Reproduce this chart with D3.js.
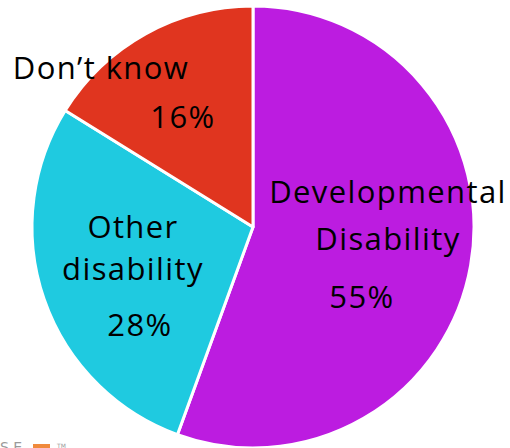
<!DOCTYPE html>
<html>
<head>
<meta charset="utf-8">
<script src="https://cdn.jsdelivr.net/npm/d3@7"></script>
<style>
  html, body { margin: 0; padding: 0; background: #fff; }
  svg { display: block; }
  .lbl { font-family: "Open Sans", sans-serif; font-size: 31px; letter-spacing: 1.4px; fill: #000; }
</style>
</head>
<body>
<div id="chart"></div>
<script>
/* Disability type pie */
(function () {
  const W = 510, H = 448;

  // Data
  const categories = ["Developmental Disability", "Other disability", "Don\u2019t know"];
  const values = [55, 28, 16];
  const colors = ["#BC1CE0", "#1FCAE0", "#E0351F"];

  // Label lines and positions (relative to pie centre)
  const labelLines = [["Developmental", "Disability"], ["Other", "disability"], ["Don\u2019t know"]];
  const labelPos = [
    { x: 135, lines: [-24, 23], pct: { x: 109, y: 81 } },
    { x: -120, lines: [11, 53], pct: { x: -113, y: 109 } },
    { x: -152, lines: [-148], pct: { x: -70, y: -99 } }
  ];

  const cx = 253, cy = 227, r = 221;

  const svg = d3.select("#chart").append("svg")
    .attr("width", W).attr("height", H);

  const g = svg.append("g").attr("transform", `translate(${cx},${cy})`);

  const data = categories.map((c, i) => ({ cat: c, value: values[i], color: colors[i], i }));

  const pie = d3.pie().sort(null).value(d => d.value);
  const arc = d3.arc().innerRadius(0).outerRadius(r);

  g.selectAll("path.slice")
    .data(pie(data))
    .join("path")
    .attr("class", "slice")
    .attr("d", arc)
    .attr("fill", d => d.data.color)
    .attr("stroke", "#fff")
    .attr("stroke-width", 3)
    .attr("stroke-linejoin", "round");

  // Labels
  data.forEach((d, i) => {
    const p = labelPos[i];
    labelLines[i].forEach((line, j) => {
      g.append("text")
        .attr("class", "lbl")
        .attr("x", p.x)
        .attr("y", p.lines[j])
        .attr("text-anchor", "middle")
        .text(line);
    });
    g.append("text")
      .attr("class", "lbl")
      .attr("x", p.pct.x)
      .attr("y", p.pct.y)
      .attr("text-anchor", "middle")
      .text(d.value + "%");
  });

  // Partly hidden logo in the bottom-left corner
  const logo = svg.append("g").attr("transform", "translate(0,452)");
  logo.append("text")
    .attr("x", 0).attr("y", 0)
    .style("font-family", "DejaVu Sans, sans-serif")
    .style("font-size", "14px")
    .style("fill", "#9a9a9a")
    .text("S E");
  logo.append("rect")
    .attr("x", 33).attr("y", -8).attr("width", 17).attr("height", 10)
    .attr("fill", "#F08A3C");
  logo.append("text")
    .attr("x", 57).attr("y", -4)
    .style("font-family", "DejaVu Sans, sans-serif")
    .style("font-size", "6px")
    .style("fill", "#9a9a9a")
    .text("TM");
})();
</script>
</body>
</html>
